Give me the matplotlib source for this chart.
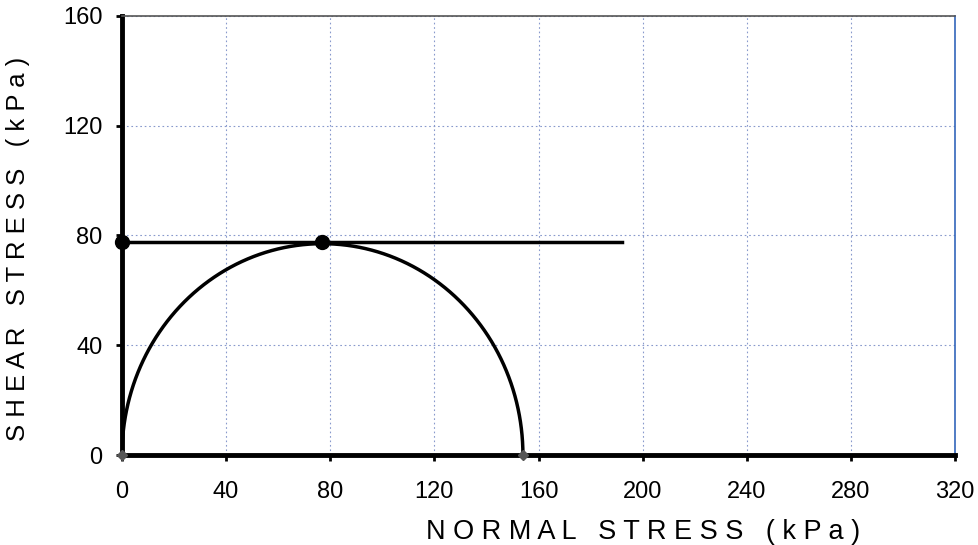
import numpy as np
import matplotlib
matplotlib.use("Agg")
import matplotlib.pyplot as plt

plt.rcParams['font.family'] = ['Liberation Sans', 'DejaVu Sans']

# Data
center = 77.0
radius = 77.0
envelope_x = [0, 192]
envelope_y = [77.5, 77.5]
points_x = [0, 77]
points_y = [77.5, 77.5]
ends_x = [0, 154]
ends_y = [0, 0]
x_ticks = [0, 40, 80, 120, 160, 200, 240, 280, 320]
y_ticks = [0, 40, 80, 120, 160]

fig = plt.figure(figsize=(9.79, 5.45), dpi=100)
ax = fig.add_axes([0.1246, 0.165, 0.851, 0.806])

theta = np.linspace(0, np.pi, 400)
ax.plot(center + radius * np.cos(theta), radius * np.sin(theta), color='black', lw=2.5, zorder=3)
ax.plot(envelope_x, envelope_y, color='black', lw=2.5, zorder=3)
ax.plot(points_x, points_y, 'o', color='black', ms=10, zorder=4, clip_on=False)
ax.plot(ends_x, ends_y, 'D', color='#555555', ms=5, zorder=4, clip_on=False)

ax.set_xlim(0, 320)
ax.set_ylim(0, 160)
ax.set_xticks(x_ticks)
ax.set_yticks(y_ticks)
ax.tick_params(labelsize=17, length=4, width=2, direction='out')
ax.tick_params(axis='x', pad=15)
ax.tick_params(axis='y', pad=10)
ax.grid(True, linestyle=(0, (1.5, 2.5)), color='#8899cc', lw=0.8)

for s in ['left', 'bottom']:
    ax.spines[s].set_linewidth(3.5)
    ax.spines[s].set_color('black')
for s in ['top', 'right']:
    ax.spines[s].set_linewidth(1.2)
    ax.spines[s].set_color('#555555')
ax.spines['right'].set_color('#3366bb')

ax.set_xlabel('N O R M A L   S T R E S S   ( k P a )', fontsize=19.5)
ax.xaxis.set_label_coords(0.625, -0.145)
ax.set_ylabel('S H E A R   S T R E S S   ( k P a )', fontsize=18.5)
ax.yaxis.set_label_coords(-0.11, 0.47)

fig.savefig('out.png', dpi=100)
